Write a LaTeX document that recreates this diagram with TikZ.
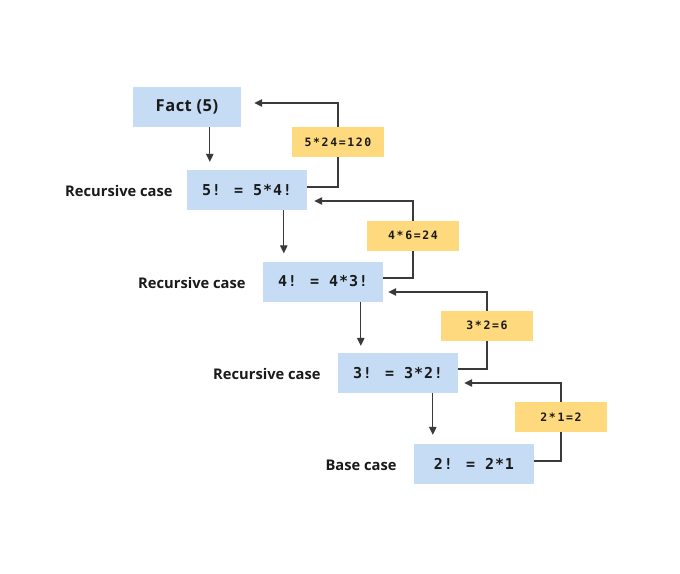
\documentclass[tikz,border=0pt]{standalone}
\usepackage{fontspec}
\setmainfont{Open Sans}
\newfontfamily\factfont[LetterSpace=3]{Open Sans}
\newfontfamily\boxmono[LetterSpace=6]{DejaVu Sans Mono}
\newfontfamily\ylwmono[LetterSpace=14]{DejaVu Sans Mono}
\usetikzlibrary{arrows.meta}
\definecolor{boxblue}{HTML}{C6DCF5}
\definecolor{boxyellow}{HTML}{FED97D}
\definecolor{linegray}{HTML}{3A3A3A}
\definecolor{txt}{HTML}{1A1A1A}
\tikzset{
  bluebox/.style={fill=boxblue, draw=none, minimum width=120pt, minimum height=40pt, inner sep=0pt, text=txt, font=\boxmono\bfseries\fontsize{15}{18}\selectfont},
  factbox/.style={bluebox, minimum width=108pt, font=\factfont\bfseries\fontsize{16.5}{18}\selectfont},
  ylwbox/.style={fill=boxyellow, draw=none, minimum width=92pt, minimum height=30pt, inner sep=0pt, text=txt, font=\ylwmono\bfseries\fontsize{11.5}{14}\selectfont},
  caselabel/.style={anchor=east, inner sep=0pt, text=txt, font=\bfseries\fontsize{14.7}{17}\selectfont},
  conn/.style={draw=linegray, line width=1.1pt},
  arr/.style={conn, -{Triangle[length=8pt,width=7.5pt]}}
}
\begin{document}
\begin{tikzpicture}[x=1pt,y=-1pt]
\useasboundingbox (0,0) rectangle (680,573);
% yellow-box positions first for the lines
\coordinate (c1) at (338,142);
\coordinate (c2) at (413,235.5);
\coordinate (c3) at (487,325.5);
\coordinate (c4) at (561,417);
% main boxes
\node[factbox] (f) at (187,107) {Fact (5)};
\node[bluebox] (b1) at (247,190) {5! = 5*4!};
\node[bluebox] (b2) at (323,281.5) {4! = 4*3!};
\node[bluebox] (b3) at (398,373) {3! = 3*2!};
\node[bluebox] (b4) at (474,464) {2! = 2*1};
% labels
\node[caselabel] (l1) at ([xshift=-14pt,yshift=-1pt]b1.west) {Recursive case};
\node[caselabel] (l2) at ([xshift=-17pt,yshift=-1pt]b2.west) {Recursive case};
\node[caselabel] (l3) at ([xshift=-17pt,yshift=-1pt]b3.west) {Recursive case};
\node[caselabel] (l4) at ([xshift=-17pt,yshift=-1pt]b4.west) {Base case};
% down arrows
\draw[arr] ([xshift=23pt]b1.north west |- f.south) -- ([xshift=23pt,yshift=8pt]b1.north west);
\draw[arr] ([xshift=21pt]b2.north west |- b1.south) -- ([xshift=21pt,yshift=8pt]b2.north west);
\draw[arr] ([xshift=23pt]b3.north west |- b2.south) -- ([xshift=23pt,yshift=7pt]b3.north west);
\draw[arr] ([xshift=19pt]b4.north west |- b3.south) -- ([xshift=19pt,yshift=9pt]b4.north west);
% return arrows
\draw[arr] ([yshift=3pt]b1.east) -| (c1) |- ([xshift=13pt,yshift=4pt]f.east);
\draw[arr] ([yshift=3.5pt]b2.east) -| (c2) |- ([xshift=7pt,yshift=-11pt]b1.east);
\draw[arr] ([yshift=4pt]b3.east) -| (c3) |- ([xshift=5pt,yshift=-10.5pt]b2.east);
\draw[arr] ([yshift=3pt]b4.east) -| (c4) |- ([xshift=6pt,yshift=-10pt]b3.east);
% yellow boxes
\node[ylwbox] (y1) at (c1) {5*24=120};
\node[ylwbox] (y2) at (c2) {4*6=24};
\node[ylwbox] (y3) at (c3) {3*2=6};
\node[ylwbox] (y4) at (c4) {2*1=2};
\end{tikzpicture}
\end{document}
